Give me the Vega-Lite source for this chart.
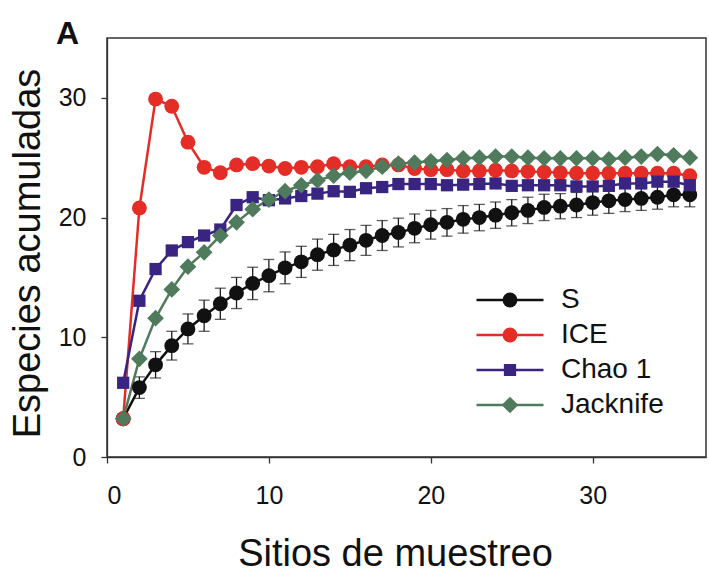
{
  "$schema": "https://vega.github.io/schema/vega-lite/v6.json",
  "width": 599,
  "height": 419,
  "autosize": {"type": "none"},
  "padding": {"left": 107, "top": 38, "right": 3, "bottom": 115},
  "background": "#ffffff",
  "title": {"text": "A", "anchor": "start", "frame": "group", "dx": -51, "dy": 38, "offset": 0, "baseline": "alphabetic", "fontSize": 32, "fontWeight": "bold", "font": "Liberation Sans", "color": "#111111"},
  "config": {
    "font": "Liberation Sans",
    "view": {"stroke": "#333333", "strokeWidth": 1.5},
    "axis": {"grid": false, "domainColor": "#333333", "domainWidth": 1.3, "tickColor": "#333333", "tickWidth": 1.3, "tickSize": 6, "labelColor": "#111111", "labelFont": "Liberation Sans", "labelFontSize": 25, "titleFont": "Liberation Sans", "titleFontSize": 38, "titleFontWeight": "normal", "titleColor": "#111111"}
  },
  "datasets": {
    "est": [
      {"x":1,"s":"S","y":3.2},{"x":2,"s":"S","y":5.8},{"x":3,"s":"S","y":7.7},{"x":4,"s":"S","y":9.3},{"x":5,"s":"S","y":10.7},{"x":6,"s":"S","y":11.8},{"x":7,"s":"S","y":12.8},{"x":8,"s":"S","y":13.7},{"x":9,"s":"S","y":14.5},{"x":10,"s":"S","y":15.15},{"x":11,"s":"S","y":15.8},{"x":12,"s":"S","y":16.3},{"x":13,"s":"S","y":16.9},{"x":14,"s":"S","y":17.3},{"x":15,"s":"S","y":17.7},{"x":16,"s":"S","y":18.1},{"x":17,"s":"S","y":18.5},{"x":18,"s":"S","y":18.75},{"x":19,"s":"S","y":19.1},{"x":20,"s":"S","y":19.4},{"x":21,"s":"S","y":19.6},{"x":22,"s":"S","y":19.85},{"x":23,"s":"S","y":20.0},{"x":24,"s":"S","y":20.2},{"x":25,"s":"S","y":20.4},{"x":26,"s":"S","y":20.6},{"x":27,"s":"S","y":20.85},{"x":28,"s":"S","y":20.95},{"x":29,"s":"S","y":21.05},{"x":30,"s":"S","y":21.25},{"x":31,"s":"S","y":21.4},{"x":32,"s":"S","y":21.5},{"x":33,"s":"S","y":21.6},{"x":34,"s":"S","y":21.7},{"x":35,"s":"S","y":21.9},{"x":36,"s":"S","y":21.9},
      {"x":1,"s":"ICE","y":3.2},{"x":2,"s":"ICE","y":20.8},{"x":3,"s":"ICE","y":29.9},{"x":4,"s":"ICE","y":29.3},{"x":5,"s":"ICE","y":26.3},{"x":6,"s":"ICE","y":24.2},{"x":7,"s":"ICE","y":23.75},{"x":8,"s":"ICE","y":24.4},{"x":9,"s":"ICE","y":24.5},{"x":10,"s":"ICE","y":24.3},{"x":11,"s":"ICE","y":24.1},{"x":12,"s":"ICE","y":24.2},{"x":13,"s":"ICE","y":24.25},{"x":14,"s":"ICE","y":24.5},{"x":15,"s":"ICE","y":24.25},{"x":16,"s":"ICE","y":24.25},{"x":17,"s":"ICE","y":24.4},{"x":18,"s":"ICE","y":24.4},{"x":19,"s":"ICE","y":24.1},{"x":20,"s":"ICE","y":24.0},{"x":21,"s":"ICE","y":24.0},{"x":22,"s":"ICE","y":23.9},{"x":23,"s":"ICE","y":23.9},{"x":24,"s":"ICE","y":23.95},{"x":25,"s":"ICE","y":23.9},{"x":26,"s":"ICE","y":23.85},{"x":27,"s":"ICE","y":23.8},{"x":28,"s":"ICE","y":23.75},{"x":29,"s":"ICE","y":23.7},{"x":30,"s":"ICE","y":23.7},{"x":31,"s":"ICE","y":23.7},{"x":32,"s":"ICE","y":23.7},{"x":33,"s":"ICE","y":23.7},{"x":34,"s":"ICE","y":23.7},{"x":35,"s":"ICE","y":23.7},{"x":36,"s":"ICE","y":23.5},
      {"x":1,"s":"Chao 1","y":6.2},{"x":2,"s":"Chao 1","y":13.05},{"x":3,"s":"Chao 1","y":15.7},{"x":4,"s":"Chao 1","y":17.25},{"x":5,"s":"Chao 1","y":17.95},{"x":6,"s":"Chao 1","y":18.5},{"x":7,"s":"Chao 1","y":19.0},{"x":8,"s":"Chao 1","y":21.05},{"x":9,"s":"Chao 1","y":21.7},{"x":10,"s":"Chao 1","y":21.45},{"x":11,"s":"Chao 1","y":21.6},{"x":12,"s":"Chao 1","y":21.8},{"x":13,"s":"Chao 1","y":22.0},{"x":14,"s":"Chao 1","y":22.2},{"x":15,"s":"Chao 1","y":22.15},{"x":16,"s":"Chao 1","y":22.45},{"x":17,"s":"Chao 1","y":22.55},{"x":18,"s":"Chao 1","y":22.8},{"x":19,"s":"Chao 1","y":22.8},{"x":20,"s":"Chao 1","y":22.8},{"x":21,"s":"Chao 1","y":22.7},{"x":22,"s":"Chao 1","y":22.75},{"x":23,"s":"Chao 1","y":22.8},{"x":24,"s":"Chao 1","y":22.85},{"x":25,"s":"Chao 1","y":22.65},{"x":26,"s":"Chao 1","y":22.7},{"x":27,"s":"Chao 1","y":22.7},{"x":28,"s":"Chao 1","y":22.7},{"x":29,"s":"Chao 1","y":22.6},{"x":30,"s":"Chao 1","y":22.6},{"x":31,"s":"Chao 1","y":22.65},{"x":32,"s":"Chao 1","y":22.85},{"x":33,"s":"Chao 1","y":22.85},{"x":34,"s":"Chao 1","y":23.0},{"x":35,"s":"Chao 1","y":23.0},{"x":36,"s":"Chao 1","y":22.7},
      {"x":1,"s":"Jacknife","y":3.2},{"x":2,"s":"Jacknife","y":8.2},{"x":3,"s":"Jacknife","y":11.6},{"x":4,"s":"Jacknife","y":14.0},{"x":5,"s":"Jacknife","y":15.9},{"x":6,"s":"Jacknife","y":17.1},{"x":7,"s":"Jacknife","y":18.5},{"x":8,"s":"Jacknife","y":19.6},{"x":9,"s":"Jacknife","y":20.7},{"x":10,"s":"Jacknife","y":21.5},{"x":11,"s":"Jacknife","y":22.2},{"x":12,"s":"Jacknife","y":22.7},{"x":13,"s":"Jacknife","y":23.1},{"x":14,"s":"Jacknife","y":23.5},{"x":15,"s":"Jacknife","y":23.75},{"x":16,"s":"Jacknife","y":23.9},{"x":17,"s":"Jacknife","y":24.25},{"x":18,"s":"Jacknife","y":24.5},{"x":19,"s":"Jacknife","y":24.6},{"x":20,"s":"Jacknife","y":24.7},{"x":21,"s":"Jacknife","y":24.8},{"x":22,"s":"Jacknife","y":24.95},{"x":23,"s":"Jacknife","y":25.0},{"x":24,"s":"Jacknife","y":25.1},{"x":25,"s":"Jacknife","y":25.1},{"x":26,"s":"Jacknife","y":25.0},{"x":27,"s":"Jacknife","y":24.95},{"x":28,"s":"Jacknife","y":24.95},{"x":29,"s":"Jacknife","y":24.95},{"x":30,"s":"Jacknife","y":24.95},{"x":31,"s":"Jacknife","y":24.87},{"x":32,"s":"Jacknife","y":25.0},{"x":33,"s":"Jacknife","y":25.1},{"x":34,"s":"Jacknife","y":25.3},{"x":35,"s":"Jacknife","y":25.2},{"x":36,"s":"Jacknife","y":25.0}
    ],
    "err": [
      {"x":1,"y":3.2,"e":0.4},{"x":2,"y":5.8,"e":0.9},{"x":3,"y":7.7,"e":1.1},{"x":4,"y":9.3,"e":1.2},{"x":5,"y":10.7,"e":1.25},{"x":6,"y":11.8,"e":1.3},{"x":7,"y":12.8,"e":1.3},{"x":8,"y":13.7,"e":1.3},{"x":9,"y":14.5,"e":1.35},{"x":10,"y":15.15,"e":1.35},{"x":11,"y":15.8,"e":1.33},{"x":12,"y":16.3,"e":1.3},{"x":13,"y":16.9,"e":1.3},{"x":14,"y":17.3,"e":1.3},{"x":15,"y":17.7,"e":1.3},{"x":16,"y":18.1,"e":1.25},{"x":17,"y":18.5,"e":1.25},{"x":18,"y":18.75,"e":1.2},{"x":19,"y":19.1,"e":1.2},{"x":20,"y":19.4,"e":1.2},{"x":21,"y":19.6,"e":1.15},{"x":22,"y":19.85,"e":1.15},{"x":23,"y":20.0,"e":1.1},{"x":24,"y":20.2,"e":1.1},{"x":25,"y":20.4,"e":1.1},{"x":26,"y":20.6,"e":1.1},{"x":27,"y":20.85,"e":1.1},{"x":28,"y":20.95,"e":1.05},{"x":29,"y":21.05,"e":1.05},{"x":30,"y":21.25,"e":1.05},{"x":31,"y":21.4,"e":1.05},{"x":32,"y":21.5,"e":1.0},{"x":33,"y":21.6,"e":1.0},{"x":34,"y":21.7,"e":1.0},{"x":35,"y":21.9,"e":1.0},{"x":36,"y":21.9,"e":1.0}
    ]
  },
  "encoding": {
    "x": {"field": "x", "type": "quantitative", "scale": {"domain": [0, 37], "nice": false, "zero": false},
      "axis": {"values": [0, 10, 20, 30], "title": "Sitios de muestreo", "labelPadding": 20, "titleX": 288, "titleY": 108, "titleBaseline": "alphabetic", "titleAlign": "center"}},
    "y": {"field": "y", "type": "quantitative", "scale": {"domain": [0, 35], "nice": false},
      "axis": {"values": [0, 10, 20, 30], "title": "Especies acumuladas", "labelPadding": 15, "titleX": -68, "titleY": 215, "titleBaseline": "alphabetic", "titleAlign": "center", "titleAngle": -90}}
  },
  "layer": [
    {
      "data": {"name": "err"},
      "mark": {"type": "errorbar", "ticks": {"size": 11}, "thickness": 1.3, "color": "#1a1a1a"},
      "encoding": {
        "y": {"field": "y", "type": "quantitative"},
        "yError": {"field": "e"}
      }
    },
    {
      "data": {"name": "est"},
      "mark": {"type": "line", "strokeWidth": 2.5},
      "encoding": {
        "stroke": {"field": "s", "type": "nominal",
          "scale": {"domain": ["S", "ICE", "Chao 1", "Jacknife"], "range": ["#111111", "#e52d27", "#3a2481", "#4f7b5c"]},
          "legend": {"title": null, "orient": "none", "legendX": 368, "legendY": 244.5, "symbolType": "stroke", "symbolSize": 4489, "symbolStrokeWidth": 2.5, "clipHeight": 35, "rowPadding": 0, "padding": 0, "labelOffset": 16, "labelFontSize": 28, "labelFont": "Liberation Sans", "labelColor": "#111111"}}
      }
    },
    {
      "data": {"name": "est"},
      "transform": [{"filter": "datum.y > 0"}],
      "mark": {"type": "point", "filled": true, "opacity": 1, "strokeWidth": 0},
      "encoding": {
        "fill": {"field": "s", "type": "nominal",
          "scale": {"domain": ["S", "ICE", "Chao 1", "Jacknife", "_"], "range": ["#111111", "#e52d27", "#3a2481", "#4f7b5c", "#000000"]},
          "legend": {"title": null, "values": ["S", "ICE", "Chao 1", "Jacknife"], "orient": "none", "legendX": 389, "legendY": 244.5, "symbolStrokeWidth": 0, "clipHeight": 35, "rowPadding": 0, "padding": 0, "labelFontSize": 28, "labelExpr": "''"}},
        "shape": {"field": "s", "type": "nominal",
          "scale": {"domain": ["S", "ICE", "Chao 1", "Jacknife", "_"], "range": ["circle", "circle", "square", "diamond", "circle"]},
          "legend": {"title": null, "values": ["S", "ICE", "Chao 1", "Jacknife"], "orient": "none", "legendX": 389, "legendY": 244.5, "symbolStrokeWidth": 0, "clipHeight": 35, "rowPadding": 0, "padding": 0, "labelFontSize": 28, "labelExpr": "''"}},
        "size": {"field": "s", "type": "nominal",
          "scale": {"type": "ordinal", "domain": ["S", "ICE", "Chao 1", "Jacknife", "_"], "range": [220, 220, 150, 280, 0]},
          "legend": {"title": null, "values": ["S", "ICE", "Chao 1", "Jacknife"], "orient": "none", "legendX": 389, "legendY": 244.5, "symbolStrokeWidth": 0, "clipHeight": 35, "rowPadding": 0, "padding": 0, "labelFontSize": 28, "labelExpr": "''"}}
      }
    }
  ]
}
